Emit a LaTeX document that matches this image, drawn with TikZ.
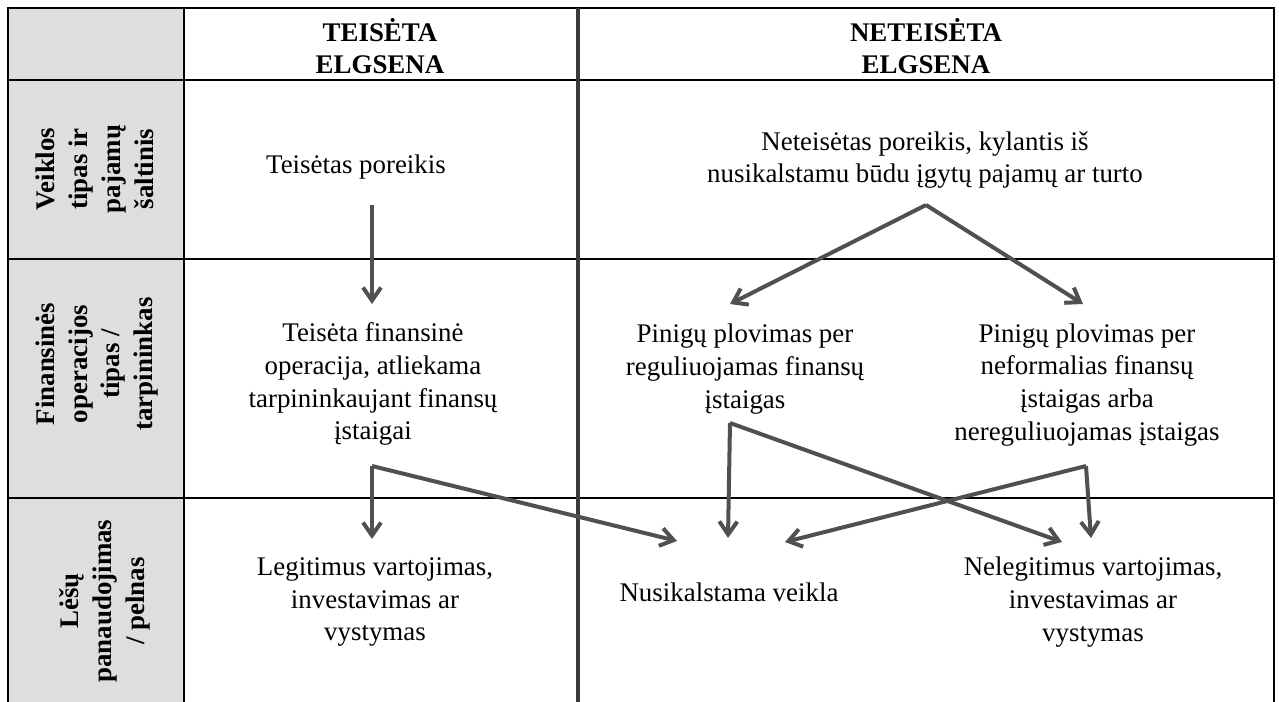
\documentclass[tikz,border=0pt]{standalone}
\usepackage{fontspec}
\setmainfont{Liberation Serif}
\usetikzlibrary{arrows.meta}
\definecolor{greycol}{HTML}{DEDEDE}
\definecolor{arrcol}{HTML}{505050}
\definecolor{midcol}{HTML}{3A3A3A}
\tikzset{
  grid/.style={draw=black, line width=2bp},
  midline/.style={draw=midcol, line width=3.5bp},
  txt/.style={align=center, inner sep=0pt, font=\fontsize{27}{33}\selectfont},
  head/.style={align=center, inner sep=0pt, font=\fontsize{27}{32}\selectfont\bfseries},
  rowlab/.style={align=center, inner sep=0pt, rotate=90, font=\fontsize{27}{33}\selectfont\bfseries},
  arr/.style={draw=arrcol, line width=4bp, line join=round,
    -{Straight Barb[length=13bp, width=18bp, line width=4bp]}}
}
\begin{document}
\begin{tikzpicture}[x=1bp, y=-1bp]
\useasboundingbox (0,0) rectangle (1279,702);
% grey column
\fill[greycol] (8,8) rectangle (184,702);
% grid
\draw[grid] (8,702) -- (8,8) -- (1274,8) -- (1274,702);
\draw[grid] (8,80) -- (1274,80);
\draw[grid] (8,259) -- (1274,259);
\draw[grid] (8,498) -- (1274,498);
\draw[grid] (184,8) -- (184,702);
\draw[midline] (578,8) -- (578,702);

% headers
\node[head] (hL) at (380,46) {TEISĖTA\\ELGSENA};
\node[head] (hR) at (926,46) {NETEISĖTA\\ELGSENA};

% row labels
\node[rowlab] (r1) at (95,169) {Veiklos\\tipas ir\\pajamų\\šaltinis};
\node[rowlab] (r2) at (97,364) {Finansinės\\operacijos\\tipas /\\tarpininkas};
\node[rowlab] (r3) at (105,601) {Lėšų\\panaudojimas\\/ pelnas};

% cell texts
\node[txt] (lp) at (356,167) {Teisėtas poreikis};
\node[txt] (np) at (925,160) {Neteisėtas poreikis, kylantis iš\\nusikalstamu būdu įgytų pajamų ar turto};
\node[txt] (lf) at (373,384) {Teisėta finansinė\\operacija, atliekama\\tarpininkaujant finansų\\įstaigai};
\node[txt] (rf) at (745,369) {Pinigų plovimas per\\reguliuojamas finansų\\įstaigas};
\node[txt] (nf) at (1087,385) {Pinigų plovimas per\\neformalias finansų\\įstaigas arba\\nereguliuojamas įstaigas};
\node[txt] (lv) at (375,602) {Legitimus vartojimas,\\investavimas ar\\vystymas};
\node[txt] (nk) at (729,592) {Nusikalstama veikla};
\node[txt] (nv) at (1093,602) {Nelegitimus vartojimas,\\investavimas ar\\vystymas};

% connector coordinates
\coordinate (lpS) at (372,205);
\coordinate (lfT) at (372,304);
\coordinate (npS) at (926,205);
\coordinate (rfT) at (730,304);
\coordinate (nfT) at (1083,304);
\coordinate (lfS) at (372,466);
\coordinate (lvT) at (372,539);
\coordinate (nkT1) at (677,541);
\coordinate (rfS) at (730,423);
\coordinate (nkT2) at (728,538);
\coordinate (nvT1) at (1062,542);
\coordinate (nfS) at (1086,466);
\coordinate (nvT2) at (1091,538);
\coordinate (nkT3) at (785,542);

% connectors
\draw[arr] (lpS) -- (lfT);
\draw[arr] (npS) -- (rfT);
\draw[arr] (npS) -- (nfT);
\draw[arr] (lfS) -- (lvT);
\draw[arr] (lfS) -- (nkT1);
\draw[arr] (rfS) -- (nkT2);
\draw[arr] (rfS) -- (nvT1);
\draw[arr] (nfS) -- (nvT2);
\draw[arr] (nfS) -- (nkT3);
\end{tikzpicture}
\end{document}
